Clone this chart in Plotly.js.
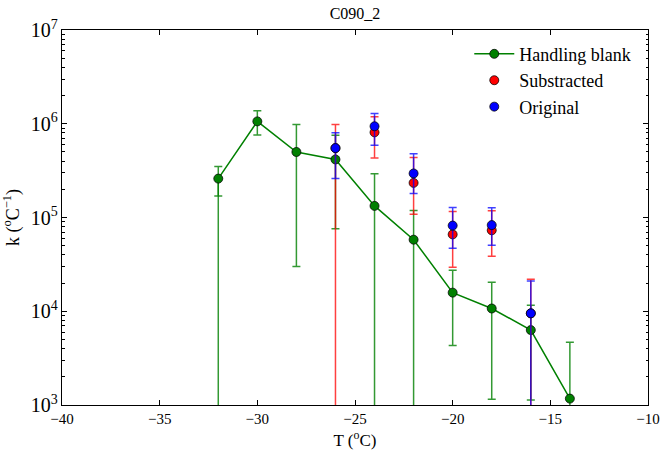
<!DOCTYPE html>
<html>
<head>
<meta charset="utf-8">
<script src="https://cdn.plot.ly/plotly-3.0.1.min.js"></script>
<style>html,body{margin:0;padding:0;background:#fff;}#chart{width:661px;height:450px;}</style>
</head>
<body>
<div id="chart"></div>
<script>
// Handling blank (green)
var blankT = [-32, -30, -28, -26, -24, -22, -20, -18, -16, -14];
var blankK = [2.6e5, 1.06e6, 5.0e5, 4.16e5, 1.33e5, 5.8e4, 1.58e4, 1.07e4, 6.3e3, 1.17e3];
var blankErrPlus = [0.9e5, 3.2e5, 4.8e5, 3.4e5, 1.6e5, 6.1e4, 1.15e4, 9.7e3, 5.3e3, 3.5e3];
var blankErrMinus = [0.9e5, 3.0e5, 4.7e5, 3.4e5, 1.6e5, 6.1e4, 1.15e4, 9.55e3, 5.17e3, 3.5e3];
// second, wider error reaching the axis at -32
var blankWideT = [-32];
var blankWideK = [2.6e5];
var blankWideMinus = [2.6e5];

// Substracted (red)
var subT = [-26, -24, -22, -20, -18, -16];
var subK = [5.5e5, 8.1e5, 2.34e5, 6.6e4, 7.3e4, 9.5e3];
var subErrPlus = [4.3e5, 3.8e5, 2.02e5, 5.0e4, 4.5e4, 1.24e4];
var subErrMinus = [5.5e5, 3.8e5, 1.26e5, 3.66e4, 3.45e4, 9.5e3];

// Original (blue)
var origT = [-26, -24, -22, -20, -18, -16];
var origK = [5.5e5, 9.4e5, 2.95e5, 8.2e4, 8.3e4, 9.5e3];
var origErrPlus = [2.5e5, 3.5e5, 1.85e5, 4.6e4, 4.4e4, 1.15e4];
var origErrMinus = [2.9e5, 3.5e5, 1.15e5, 3.5e4, 3.25e4, 9.5e3];

var xTicks = [-40, -35, -30, -25, -20, -15, -10];

var FONT = 'Liberation Serif';
var mline = {color: 'rgba(0,0,0,0.75)', width: 1};

var traces = [
  {
    x: blankWideT, y: blankWideK, type: 'scatter', mode: 'markers',
    marker: {size: 1, opacity: 0}, showlegend: false, hoverinfo: 'skip',
    error_y: {type: 'data', symmetric: false, array: [0], arrayminus: blankWideMinus,
      color: 'rgba(0,128,0,0.8)', thickness: 1.5, width: 0}
  },
  {
    x: blankT, y: blankK, type: 'scatter', mode: 'lines+markers', name: 'Handling blank',
    line: {color: '#008000', width: 1.5},
    marker: {color: '#008000', size: 9, line: mline},
    error_y: {type: 'data', symmetric: false, array: blankErrPlus, arrayminus: blankErrMinus,
      color: 'rgba(0,128,0,0.8)', thickness: 1.5, width: 4}
  },
  {
    x: subT, y: subK, type: 'scatter', mode: 'markers', name: 'Substracted',
    marker: {color: '#ff0000', size: 9, line: mline},
    error_y: {type: 'data', symmetric: false, array: subErrPlus, arrayminus: subErrMinus,
      color: 'rgba(255,0,0,0.75)', thickness: 1.5, width: 4}
  },
  {
    x: origT, y: origK, type: 'scatter', mode: 'markers', name: 'Original',
    marker: {color: '#0000ff', size: 9, line: mline},
    error_y: {type: 'data', symmetric: false, array: origErrPlus, arrayminus: origErrMinus,
      color: 'rgba(0,0,255,0.75)', thickness: 1.5, width: 4}
  }
];

var layout = {
  width: 661, height: 450,
  margin: {l: 62, r: 13, t: 30, b: 45, pad: 0},
  paper_bgcolor: '#fff', plot_bgcolor: '#fff',
  font: {family: FONT, size: 15, color: '#000'},
  title: {text: 'C090_2', font: {family: FONT, size: 16, color: '#000'},
    x: (62 + 648) / 2 / 661, xanchor: 'center', y: 1 - 13 / 450, yanchor: 'middle', yref: 'container'},
  showlegend: true,
  legend: {x: 0.695, y: 0.985, xanchor: 'left', yanchor: 'top', bgcolor: 'rgba(0,0,0,0)',
    font: {family: FONT, size: 18, color: '#000'}, itemwidth: 40, tracegroupgap: 0},
  xaxis: {
    range: [-40, -10], tickvals: xTicks, ticks: 'inside', ticklen: 5, tickwidth: 1, tickcolor: '#000',
    showline: true, linecolor: '#000', linewidth: 1, mirror: 'ticks',
    showgrid: false, zeroline: false,
    tickfont: {family: FONT, size: 15},
    title: {text: 'T (<sup>o</sup>C)', font: {family: FONT, size: 17}, standoff: 10}
  },
  yaxis: {
    type: 'log', range: [3, 7], dtick: 1, exponentformat: 'power',
    ticks: 'inside', ticklen: 5, tickwidth: 1, tickcolor: '#000',
    minor: {ticks: 'inside', ticklen: 2.5, tickcolor: '#000', dtick: 'D1', showgrid: false},
    showline: true, linecolor: '#000', linewidth: 1, mirror: 'ticks',
    showgrid: false, zeroline: false,
    tickfont: {family: FONT, size: 16},
    title: {text: 'k (<sup>o</sup>C<sup>\u22121</sup>)', font: {family: FONT, size: 18}, standoff: 8}
  }
};

Plotly.newPlot('chart', traces, layout, {displayModeBar: false, staticPlot: true});
</script>
</body>
</html>
